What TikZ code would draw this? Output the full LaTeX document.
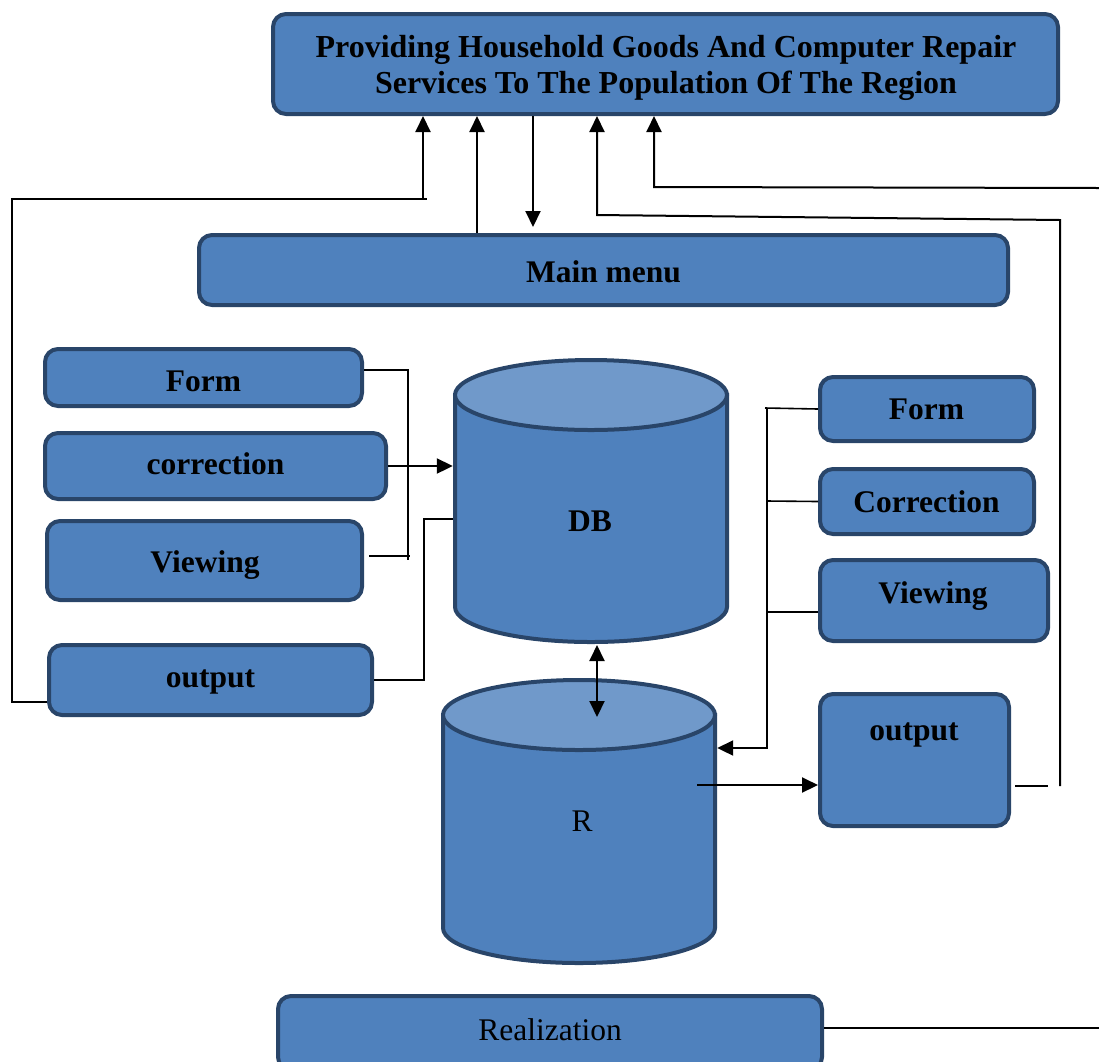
\documentclass[tikz,border=0pt]{standalone}
\usepackage{fontspec}
\setmainfont{Liberation Serif}
\usetikzlibrary{arrows.meta}
\definecolor{boxfill}{HTML}{4F81BD}
\definecolor{boxline}{HTML}{294569}
\definecolor{topfill}{HTML}{7099CA}
\tikzset{
  box/.style={draw=boxline, fill=boxfill, line width=4pt, rounded corners=13pt, inner sep=0pt},
  lbl/.style={font=\bfseries\fontsize{31.5}{36}\selectfont, inner sep=0pt, anchor=base},
  rlbl/.style={font=\fontsize{31.5}{36}\selectfont, inner sep=0pt, anchor=base},
  conn/.style={draw=black, line width=1.6pt},
  arr/.style={draw=black, line width=2pt, -{Triangle[length=16pt,width=15pt]}},
  dbl/.style={draw=black, line width=2pt, {Triangle[length=16pt,width=15pt]}-{Triangle[length=16pt,width=15pt]}},
  cylbody/.style={draw=boxline, fill=boxfill, line width=4pt},
  cyltop/.style={draw=boxline, fill=topfill, line width=4pt}
}
\begin{document}
\begin{tikzpicture}[x=1pt,y=-1pt]
\useasboundingbox (0,0) rectangle (1099,1061);

% boxes
\node[box, minimum width=785pt, minimum height=100pt] (Top) at (665.5,64) {};
\node[lbl, font=\bfseries\fontsize{32}{36}\selectfont] (TopT1) at (666,57.5) {Providing Household Goods And Computer Repair};
\node[lbl, font=\bfseries\fontsize{32}{36}\selectfont] (TopT2) at (666,93.5) {Services To The Population Of The Region};

\node[box, minimum width=809pt, minimum height=70pt] (Main) at (603.5,270) {};
\node[lbl] (MainT) at (603.5,282) {Main menu};

\node[box, minimum width=317pt, minimum height=57pt] (LForm) at (203.5,377.5) {};
\node[lbl] (LFormT) at (203.5,391) {Form};
\node[box, minimum width=341pt, minimum height=66pt] (LCorr) at (215.5,466) {};
\node[lbl] (LCorrT) at (215.5,474.5) {correction};
\node[box, minimum width=315pt, minimum height=79pt] (LView) at (204.5,560.5) {};
\node[lbl] (LViewT) at (205,572.5) {Viewing};
\node[box, minimum width=323pt, minimum height=70pt] (LOut) at (210.5,680) {};
\node[lbl] (LOutT) at (210.5,687) {output};

\node[box, minimum width=214pt, minimum height=64pt] (RForm) at (927,409) {};
\node[lbl] (RFormT) at (926.5,419.5) {Form};
\node[box, minimum width=214pt, minimum height=65pt] (RCorr) at (927,501.5) {};
\node[lbl] (RCorrT) at (926.5,512) {Correction};
\node[box, minimum width=228pt, minimum height=81pt] (RView) at (934,600.5) {};
\node[lbl] (RViewT) at (933,603.5) {Viewing};
\node[box, minimum width=189pt, minimum height=132pt] (ROut) at (914.5,760) {};
\node[lbl] (ROutT) at (914,740.5) {output};

\node[box, minimum width=544pt, minimum height=74pt] (Real) at (550,1033) {};
\node[rlbl] (RealT) at (550,1040) {Realization};

% DB cylinder
\draw[cylbody] (455,395) -- (455,607) arc[start angle=180,end angle=360,x radius=136pt,y radius=35pt] -- (727,395) -- cycle;
\draw[cyltop] (591,395) ellipse[x radius=136pt,y radius=35pt];
\node[inner sep=0pt, minimum width=276pt, minimum height=212pt] (DB) at (591,501) {};
\node[lbl] (DBT) at (590,531) {DB};

% R cylinder
\draw[cylbody] (443,715) -- (443,928) arc[start angle=180,end angle=360,x radius=136pt,y radius=35pt] -- (715,715) -- cycle;
\draw[cyltop] (579,715) ellipse[x radius=136pt,y radius=35pt];
\node[inner sep=0pt, minimum width=276pt, minimum height=213pt] (R) at (579,821.5) {};
\node[rlbl] (RT) at (582,831) {R};

% connectors to top box
\draw[conn] ([yshift=-22pt]LOut.west) -| (12,199) -- (427,199);
\draw[arr] (423,199) -- (Top.south -| 423,0);
\draw[arr] (Main.north -| 477,0) -- (Top.south -| 477,0);
\draw[arr] (Top.south -| 533,0) -- (533,227);
\draw[conn] (1015,786) -- (1048,786);
\draw[arr] (1060,786) -- (1060,220) -- (597,215) -- (Top.south -| 597,0);
\draw[arr] (1099,188) -- (654,187) -- (Top.south -| 654,0);

% left bracket
\draw[conn] (LForm.east |- 0,370) -- (408,370) -- (408,560);
\draw[conn] (369,556) -- (410,556);
\draw[arr] (LCorr.east) -- (DB.west |- LCorr.east);
\draw[conn] (DB.west |- 0,519) -- (424,519) -- (424,680) -- (LOut.east);

% DB <-> R
\draw[dbl] (597,645) -- (597,717);

% right bracket
\draw[conn] (RForm.west) -- (765,408);
\draw[conn] (RCorr.west) -- (767,501);
\draw[conn] (RView.west |- 0,612) -- (767,612);
\draw[arr] (767,408) -- (767,748) -- (R.east |- 0,748);
\draw[arr] (697,785) -- (ROut.west |- 0,785);

% realization line
\draw[conn] (Real.east |- 0,1028) -- (1099,1028);
\end{tikzpicture}
\end{document}
